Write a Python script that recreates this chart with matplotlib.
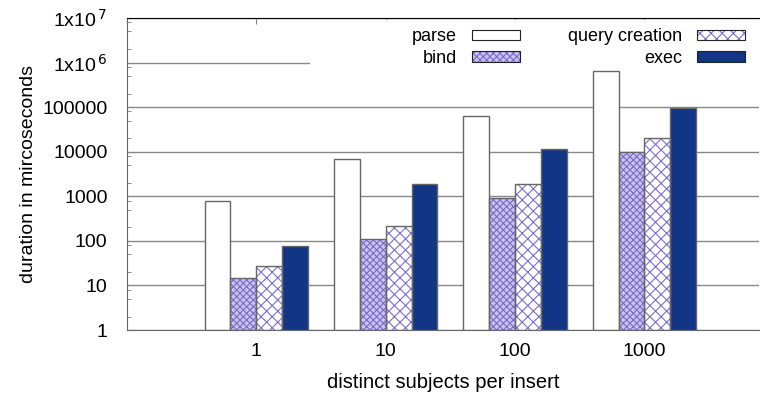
import numpy as np
import matplotlib.pyplot as plt
from matplotlib.ticker import LogLocator, FuncFormatter

plt.rcParams['font.family'] = ['Liberation Sans', 'DejaVu Sans']
plt.rcParams['hatch.linewidth'] = 0.8

# data (microseconds)
categories = ['1', '10', '100', '1000']
parse = [780, 6800, 63000, 640000]
bind = [14, 110, 920, 9800]
query_creation = [27, 215, 1880, 20000]
execute = [76, 1880, 11500, 95000]

series = [
    ('parse', parse, 'white', None, 'white'),
    ('bind', bind, '#c9c2ee', 'xxxxx', '#7a6cc8'),
    ('query creation', query_creation, 'white', 'xxx', '#7b6fd0'),
    ('exec', execute, '#133585', None, '#133585'),
]

fig = plt.figure(figsize=(7.62, 3.94), dpi=100)
ax = fig.add_axes([0.1667, 0.1624, 0.83, 0.792])

x = np.arange(len(categories))
w = 0.2
handles = []
for i, (name, vals, face, hatch, hcol) in enumerate(series):
    pos = x + (i - 1.5) * w
    ax.bar(pos, vals, w, bottom=1, color=face, hatch=hatch, edgecolor=hcol,
           linewidth=0, zorder=2)
    ax.bar(pos, vals, w, bottom=1, fill=False, edgecolor='#666666',
           linewidth=1.0, zorder=3)
    if hatch:
        h = (plt.Rectangle((0, 0), 1, 1, facecolor=face, hatch=hatch,
                           edgecolor=hcol, linewidth=0),
             plt.Rectangle((0, 0), 1, 1, fill=False, edgecolor='#222222',
                           linewidth=0.8))
    else:
        h = plt.Rectangle((0, 0), 1, 1, facecolor=face, edgecolor='#222222',
                          linewidth=0.8)
    handles.append((h, name))

ax.set_yscale('log')
ax.set_ylim(1, 1e7)
ax.set_xlim(-1, 3.89)

def fmt(v, pos):
    if v >= 1e6:
        return r'1x10$^{\,%d}$' % int(round(np.log10(v)))
    return '%d' % int(round(v))

ax.yaxis.set_major_locator(LogLocator(base=10, numticks=10))
ax.yaxis.set_major_formatter(FuncFormatter(fmt))
ax.yaxis.set_minor_locator(LogLocator(base=10, subs=(2.0, 5.0, 8.0), numticks=20))
ax.yaxis.set_minor_formatter(plt.NullFormatter())
ax.grid(axis='y', which='major', color='#888888', linewidth=1.0, zorder=0)
ax.set_axisbelow(True)

ax.set_xticks(x)
ax.set_xticklabels(categories)
ax.tick_params(axis='x', which='both', bottom=False, top=True, direction='in',
               length=4, color='#888888', labelsize=14, pad=9)
ax.tick_params(axis='y', which='major', direction='in', length=0, labelsize=14, pad=14)
ax.tick_params(axis='y', which='minor', direction='in', length=3, color='#777777')

for s in ['left', 'bottom']:
    ax.spines[s].set_color('#666666')
ax.spines['top'].set_color('black')
ax.spines['right'].set_visible(False)

ax.set_xlabel('distinct subjects per insert', fontsize=14.5, labelpad=10)
ax.set_ylabel('duration in mircoseconds', fontsize=14, labelpad=4)

# key box background (hides the grid behind the key, like gnuplot)
ax.add_patch(plt.Rectangle((0.289, 0.835), 0.72, 0.16, transform=ax.transAxes,
                           facecolor='white', edgecolor='none', zorder=1,
                           clip_on=False))

leg = ax.legend([h for h, n in handles], [n for h, n in handles], ncol=2,
                loc='upper right', bbox_to_anchor=(0.999, 1.01), markerfirst=False,
                fontsize=13, handlelength=2.67, handleheight=0.55,
                columnspacing=2.67, handletextpad=0.83, labelspacing=0.25,
                frameon=False, borderpad=0.25)
leg.set_zorder(1.5)

fig.savefig('out.png', dpi=100)
